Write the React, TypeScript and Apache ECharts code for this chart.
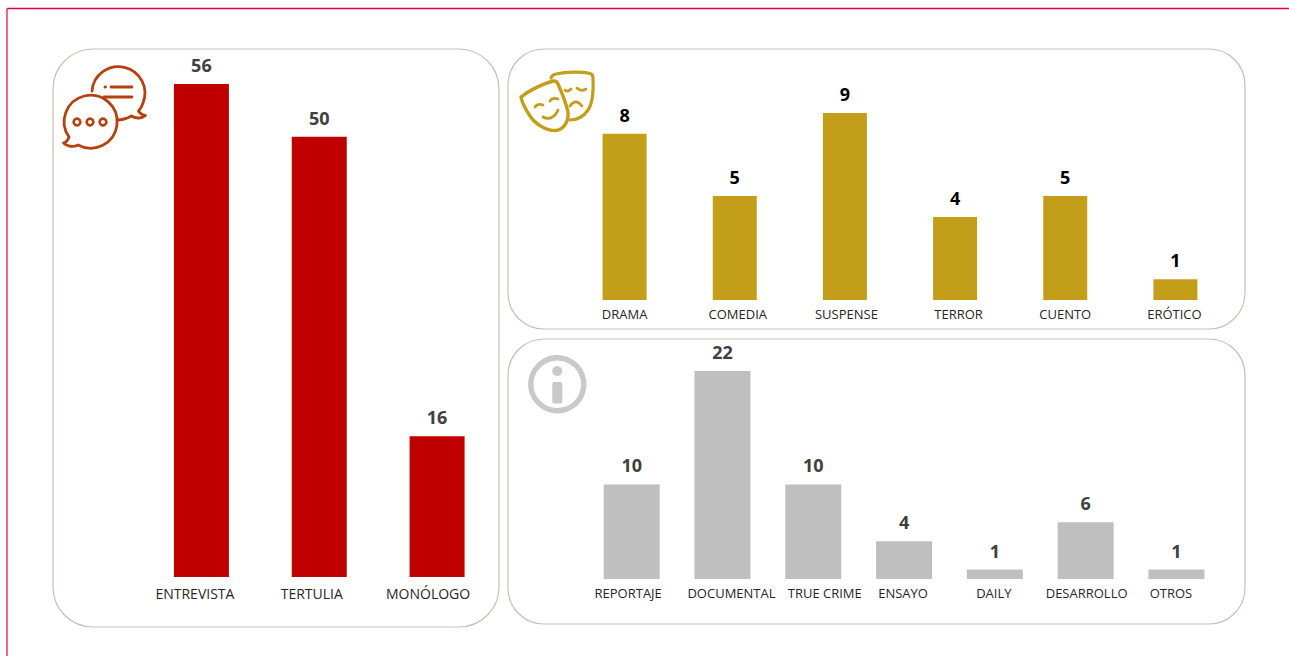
import React, { useEffect, useRef } from "react";
import * as echarts from "echarts";

const conversationCategories = ["ENTREVISTA", "TERTULIA", "MONÓLOGO"];
const conversationValues = [56, 50, 16];
const fictionCategories = ["DRAMA", "COMEDIA", "SUSPENSE", "TERROR", "CUENTO", "ERÓTICO"];
const fictionValues = [8, 5, 9, 4, 5, 1];
const infoCategories = ["REPORTAJE", "DOCUMENTAL", "TRUE CRIME", "ENSAYO", "DAILY", "DESARROLLO", "OTROS"];
const infoValues = [10, 22, 10, 4, 1, 6, 1];

const FONT = "'Open Sans', sans-serif";
const CHAT = "#b5410f";
const GOLD = "#c39e19";
const INFO = "#c9c9c9";
const PANEL = "#c9bfb6";

echarts.graphic.registerShape("chatBack", echarts.graphic.extendPath(
  "M92 91 A26.5 26.5 0 1 1 143 103 C142 106 140.5 109 138.5 111 C140 114 143 115 145.5 115.5 C142 118.5 136 119 131.5 116 C127 118.5 122 120 117 120", {}));
echarts.graphic.registerShape("chatFront", echarts.graphic.extendPath(
  "M69 137 A26.5 26.5 0 1 1 78 145 C73 147.5 67 146.5 63.5 143 C66.5 142.5 68 140 69 137 Z", {}));
echarts.graphic.registerShape("chatLines", echarts.graphic.extendPath(
  "M111 87 L132 87 M104 97 L132 97 M105 87 L105.5 87", {}));
echarts.graphic.registerShape("maskFront", echarts.graphic.extendPath(
  "M521 97 C530 90 543 84 553 81 C556 80.5 557 81.5 558 84 C562 93 566 103 568 112 C569 122 563 130 556 130.5 C547 131 535 124 530 116 C526 110 522 103 521 97 Z", {}));
echarts.graphic.registerShape("maskFrontFace", echarts.graphic.extendPath(
  "M535 107 C537 104 540 104 543 105 M550 101 C552 98 555 98 558 99 M543 117 C548 120 555 118 558 110", {}));
echarts.graphic.registerShape("maskBack", echarts.graphic.extendPath(
  "M551 78 C552 75.5 553 74.5 556 74 C567 71.5 582 71.5 590 73.5 C592.5 74 593 76 593 78 C593.5 90 593 103 588 110 C584 116 578 120 570 120", {}));
echarts.graphic.registerShape("maskBackFace", echarts.graphic.extendPath(
  "M565 90 C567 92 569 91 571 89 M577 88 C580 91 583 91 586 89 M570 106 C574 100 578 101 582 106", {}));

function panel(x: number, y: number, width: number, height: number, r: number) {
  return {
    type: "rect",
    shape: { x, y, width, height, r },
    style: { fill: "#ffffff", stroke: PANEL, lineWidth: 1.2 },
    silent: true,
    z: -1,
  };
}

function icon(type: string, color: string, lineWidth: number, fill = "none") {
  return {
    type,
    style: { fill, stroke: color, lineWidth, lineCap: "round", lineJoin: "round" },
    silent: true,
  };
}

// Horizontal nudge of each tick label from the centre of its bar.
const labelShift = [
  [-6.5, -7.5, -9],
  [0, 3, 1.5, 3.5, 0, -1],
  [-3.5, 9, 11.5, -1, -1, 1, -5.5],
];

function labelRich(shifts: number[], fontSize: number) {
  const rich: Record<string, object> = {};
  shifts.forEach((dx, i) => {
    rich["t" + i] = {
      fontFamily: FONT,
      fontSize,
      color: "#262626",
      padding: dx >= 0 ? [0, 0, 0, dx * 2] : [0, -dx * 2, 0, 0],
    };
  });
  return rich;
}

export default function App() {
  const ref = useRef<HTMLDivElement>(null);

  useEffect(() => {
    const chart = echarts.init(ref.current!, null, { renderer: "svg" });

    const grids = [
      { left: 142.5, width: 353.5, top: 84, height: 493 },
      { left: 569.5, width: 661, top: 113, height: 187 },
      { left: 586.3, width: 635.5, top: 371, height: 208 },
    ];
    const cats = [conversationCategories, fictionCategories, infoCategories];
    const vals = [conversationValues, fictionValues, infoValues];
    const maxes = [56, 9, 22];
    const colors = ["#c00000", GOLD, "#bfbfbf"];
    const widths = [55, 44, 56];
    const labelColors = ["#404040", "#000000", "#404040"];
    const margins = [9, 7, 7];
    const tickSizes = [14, 13, 13];

    chart.setOption({
      animation: false,
      backgroundColor: "#ffffff",
      grid: grids,
      xAxis: cats.map((data, i) => ({
        type: "category",
        gridIndex: i,
        data,
        axisLine: { show: false },
        axisTick: { show: false },
        axisLabel: {
          interval: 0,
          margin: margins[i],
          color: "#262626",
          fontFamily: FONT,
          fontSize: tickSizes[i],
          formatter: (value: string, index: number) => `{t${index}|${value}}`,
          rich: labelRich(labelShift[i], tickSizes[i]),
        },
      })),
      yAxis: maxes.map((max, i) => ({
        type: "value",
        gridIndex: i,
        min: 0,
        max,
        show: false,
        splitLine: { show: false },
      })),
      series: vals.map((data, i) => ({
        type: "bar",
        xAxisIndex: i,
        yAxisIndex: i,
        data,
        barWidth: widths[i],
        itemStyle: { color: colors[i] },
        label: {
          show: true,
          position: "top",
          distance: 10,
          color: labelColors[i],
          fontFamily: FONT,
          fontWeight: "bold",
          fontSize: 18,
        },
      })),
      graphic: [
        { type: "line", shape: { x1: 7, y1: 8.5, x2: 1289, y2: 8.5 }, style: { stroke: "#e3003f", lineWidth: 1.5 }, silent: true },
        { type: "line", shape: { x1: 7, y1: 8.5, x2: 7, y2: 656 }, style: { stroke: "#ea3f73", lineWidth: 1.6 }, silent: true },
        panel(53, 49, 446, 578, 40),
        panel(508, 49, 737, 280, 36),
        panel(508, 339, 737, 285, 36),
        icon("chatBack", CHAT, 2.8),
        icon("chatFront", CHAT, 2.8),
        icon("chatLines", CHAT, 2.8),
        ...[77, 90, 103].map((cx) => ({
          type: "circle",
          shape: { cx, cy: 122, r: 3.4 },
          style: { fill: "none", stroke: CHAT, lineWidth: 2.6 },
          silent: true,
        })),
        icon("maskBack", GOLD, 3.2),
        icon("maskBackFace", GOLD, 2.8),
        icon("maskFront", GOLD, 3.4, "#ffffff"),
        icon("maskFrontFace", GOLD, 2.8),
        {
          type: "circle",
          shape: { cx: 557.3, cy: 384.3, r: 26.5 },
          style: { fill: "none", stroke: INFO, lineWidth: 5.4 },
          silent: true,
        },
        { type: "circle", shape: { cx: 557.3, cy: 371, r: 5 }, style: { fill: INFO }, silent: true },
        { type: "rect", shape: { x: 552.3, y: 382, width: 10, height: 21.5, r: 2 }, style: { fill: INFO }, silent: true },
      ],
    });

    return () => chart.dispose();
  }, []);

  return (
    <div
      ref={ref}
      style={{ position: "fixed", left: 0, top: 0, width: 1289, height: 656 }}
    />
  );
}
